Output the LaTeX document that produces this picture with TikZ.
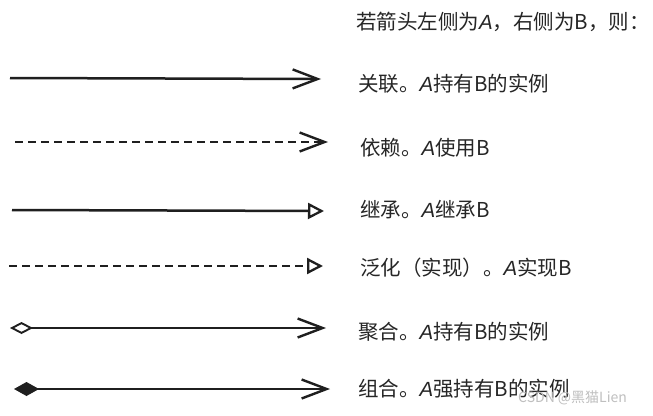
\documentclass[tikz,border=0pt]{standalone}
\usepackage{fontspec}
\setmainfont{Liberation Sans}
\newfontfamily\cjk{Noto Sans CJK SC}
\newcommand{\LA}{{\rmfamily\itshape A}}
\usetikzlibrary{arrows.meta}
\begin{document}
\begin{tikzpicture}[x=1pt,y=-1pt,
  conn/.style={line width=2.5pt,draw=black!88},
  dashconn/.style={conn,dash pattern=on 8pt off 5pt},
  vhead/.style={-{Straight Barb[length=25pt,width=19pt,line width=2.4pt]}},
  trihead/.style={-{Triangle[open,length=16pt,width=16pt,line width=2.3pt]}},
  lbl/.style={anchor=west,inner sep=0pt,font=\cjk\fontsize{20.5}{22}\selectfont,text=black!85}]
\useasboundingbox (0,0) rectangle (653,415);
\fill[white] (0,0) rectangle (653,415);
\node[lbl] (hdr) at (356,22) {若箭头左侧为\LA{}，右侧为B，则：};
% association
\coordinate (a1) at (10,78); \coordinate (b1) at (321,79);
\draw[conn,vhead] (a1) -- (b1);
\node[lbl] (t1) at (358,84) {关联。\LA{}持有B的实例};
% dependency
\coordinate (a2) at (15,142); \coordinate (b2) at (328,142);
\draw[dashconn,vhead] (a2) -- (b2);
\node[lbl] (t2) at (360,148) {依赖。\LA{}使用B};
% inheritance
\coordinate (a3) at (12,210); \coordinate (b3) at (324,211);
\draw[conn,trihead] (a3) -- (b3);
\node[lbl] (t3) at (360,210) {继承。\LA{}继承B};
% realization
\coordinate (a4) at (9,266); \coordinate (b4) at (323,266);
\draw[dashconn,trihead] (a4) -- (b4);
\node[lbl] (t4) at (360,268) {泛化（实现）。\LA{}实现B};
% aggregation
\coordinate (a5) at (10,328); \coordinate (b5) at (326,328);
\draw[conn,{Diamond[open,length=23pt,width=12pt,line width=1.9pt]}-{Straight Barb[length=25pt,width=19pt,line width=2.4pt]}] (a5) -- (b5);
\node[lbl] (t5) at (358,332) {聚合。\LA{}持有B的实例};
% composition
\coordinate (a6) at (14,389); \coordinate (b6) at (330,389);
\draw[conn,{Diamond[length=25pt,width=14pt]}-{Straight Barb[length=25pt,width=19pt,line width=2.4pt]}] (a6) -- (b6);
\node[lbl] (t6) at (358,389) {组合。\LA{}强持有B的实例};
\node[anchor=west,inner sep=0pt,font=\cjk\fontsize{14}{16}\selectfont,text=black!25] (wm) at (518,398) {CSDN @黑猫Lien};
\end{tikzpicture}
\end{document}
